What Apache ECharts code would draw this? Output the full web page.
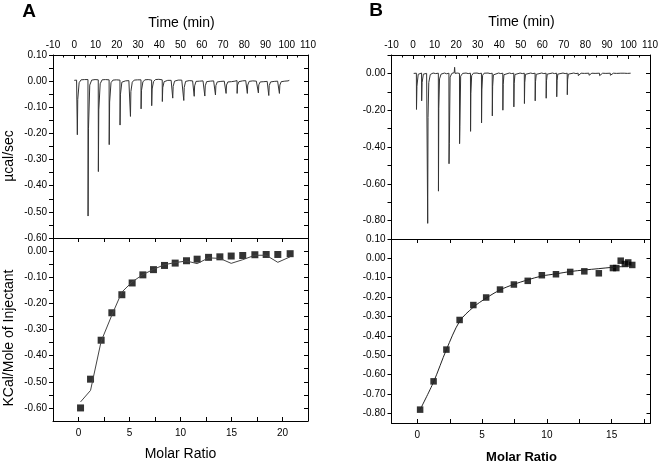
<!DOCTYPE html>
<html>
<head>
<meta charset="utf-8">
<script src="https://cdn.jsdelivr.net/npm/echarts@6/dist/echarts.min.js"></script>
<style>
html,body{margin:0;padding:0;background:#fff;}
#chart{width:661px;height:464px;}
</style>
</head>
<body>
<div id="chart"></div>
<script>
// ---------- DATA ----------
// Panel A, raw thermogram: [time (min), µcal/sec]
const thermoA = [
[0.0,0.003],[0.6,-0.002],[1.1,0.004],[1.4,0.000],
[1.45,-0.205],[1.65,-0.07],[2.3,-0.006],[3.2,0.005],[4.0,-0.001],[4.8,0.006],[5.6,0.002],[6.45,0.006],
[6.5,-0.516],[6.7,-0.18],[7.3,-0.015],[8.2,0.004],[9.0,0.000],[9.8,0.006],[10.6,0.002],[11.3,0.005],
[11.35,-0.346],[11.55,-0.11],[12.2,-0.010],[13.1,0.005],[13.9,0.001],[14.7,0.006],[15.5,0.003],[16.4,0.005],
[16.45,-0.243],[16.65,-0.08],[17.3,-0.006],[18.2,0.004],[19.0,0.002],[19.8,0.005],[20.6,0.000],[21.5,0.004],
[21.55,-0.168],[21.75,-0.05],[22.4,-0.004],[23.3,0.003],[24.1,0.001],[24.9,0.005],[25.7,0.002],[26.4,0.004],
[26.45,-0.135],[26.65,-0.04],[27.3,-0.004],[28.2,0.004],[29.0,-0.001],[29.8,0.005],[30.6,0.001],[31.4,0.005],
[31.45,-0.106],[31.65,-0.035],[32.3,-0.003],[33.2,0.005],[34.0,0.000],[34.8,0.006],[35.6,0.002],[36.4,0.004],
[36.45,-0.094],[36.65,-0.03],[37.3,-0.002],[38.2,0.006],[39.0,0.001],[39.8,0.007],[40.6,0.002],[41.4,0.005],
[41.45,-0.078],[41.65,-0.025],[42.3,-0.002],[43.2,0.005],[44.0,0.003],[44.8,0.008],[45.6,0.003],[46.3,0.006],
[46.35,-0.065],[46.55,-0.02],[47.2,0.000],[48.1,0.007],[48.9,0.004],[49.7,0.009],[50.6,0.004],[51.5,0.006],
[51.55,-0.074],[51.75,-0.024],[52.4,-0.001],[53.3,0.005],[54.1,0.002],[54.9,0.006],[55.7,0.001],[56.4,0.004],
[56.45,-0.058],[56.65,-0.018],[57.3,-0.001],[58.2,0.004],[59.0,0.000],[59.8,0.005],[60.6,0.001],[61.4,0.004],
[61.45,-0.057],[61.65,-0.018],[62.3,-0.002],[63.2,0.004],[64.0,0.000],[64.8,0.005],[65.6,0.001],[66.4,0.003],
[66.45,-0.053],[66.65,-0.017],[67.3,-0.003],[68.2,0.003],[69.0,-0.001],[69.8,0.004],[70.6,0.000],[71.4,0.003],
[71.45,-0.047],[71.65,-0.015],[72.3,-0.003],[73.2,0.002],[74.0,-0.002],[74.8,0.003],[75.6,0.000],[76.6,0.002],
[76.65,-0.047],[76.85,-0.015],[77.5,-0.002],[78.4,0.004],[79.2,0.001],[80.0,0.006],[80.7,0.002],[81.4,0.004],
[81.45,-0.047],[81.65,-0.015],[82.3,-0.001],[83.2,0.005],[84.0,0.001],[84.8,0.004],[85.7,0.000],[86.6,0.003],
[86.65,-0.045],[86.85,-0.014],[87.5,-0.003],[88.4,0.002],[89.2,-0.002],[90.0,0.003],[90.8,-0.001],[91.5,0.002],
[91.55,-0.055],[91.75,-0.017],[92.4,-0.003],[93.3,0.002],[94.1,-0.001],[94.9,0.003],[95.7,0.000],[96.5,0.002],
[96.55,-0.047],[96.75,-0.015],[97.4,-0.002],[98.3,0.003],[99.1,0.000],[99.9,0.004],[100.6,0.001],[101.2,0.003]
];

// Panel B, raw thermogram: [time (min), µcal/sec]
const thermoB = [
[0.3,0.000],[0.9,0.003],[1.55,0.001],
[1.6,-0.196],[1.8,-0.07],[2.4,-0.005],[3.2,0.004],[3.95,0.002],
[4.0,-0.149],[4.2,-0.05],[4.8,-0.004],[5.6,0.003],[6.3,0.000],[6.75,0.002],
[6.8,-0.815],[6.95,-0.24],[7.3,-0.05],[8.0,-0.006],[9.3,0.002],[10.5,-0.001],[11.75,0.001],
[11.8,-0.640],[11.95,-0.19],[12.3,-0.03],[13.0,-0.004],[14.6,0.002],[15.6,-0.002],[16.65,0.001],
[16.7,-0.491],[16.85,-0.38],[17.2,-0.02],[18.0,0.000],[19.1,0.004],[19.3,0.033],[19.5,0.000],[20.5,0.002],[21.55,0.000],
[21.6,-0.382],[21.75,-0.29],[22.1,-0.015],[23.0,0.000],[24.6,0.002],[25.6,-0.001],[26.65,0.001],
[26.7,-0.315],[26.85,-0.11],[27.2,-0.012],[28.0,0.001],[29.7,0.002],[30.7,-0.001],[31.75,0.001],
[31.8,-0.269],[31.95,-0.09],[32.3,-0.01],[33.0,0.001],[34.8,0.002],[35.8,-0.001],[36.75,0.001],
[36.8,-0.231],[36.95,-0.07],[37.3,-0.008],[38.0,0.001],[39.7,0.002],[40.7,-0.001],[41.65,0.001],
[41.7,-0.200],[41.85,-0.06],[42.2,-0.007],[43.0,0.001],[44.7,0.002],[45.8,-0.001],[46.75,0.001],
[46.8,-0.182],[46.95,-0.055],[47.3,-0.006],[48.0,0.001],[49.7,0.002],[50.7,-0.001],[51.65,0.001],
[51.7,-0.164],[51.85,-0.05],[52.2,-0.005],[53.0,0.001],[54.6,0.002],[55.6,-0.001],[56.65,0.001],
[56.7,-0.149],[56.85,-0.045],[57.2,-0.005],[58.0,0.001],[59.7,0.002],[60.7,-0.001],[61.75,0.001],
[61.8,-0.135],[61.95,-0.04],[62.3,-0.004],[63.0,0.001],[64.7,0.002],[65.7,-0.001],[66.65,0.001],
[66.7,-0.127],[66.85,-0.04],[67.2,-0.004],[68.0,0.001],[69.6,0.002],[70.6,-0.001],[71.55,0.001],
[71.6,-0.116],[71.75,-0.035],[72.1,-0.004],[73.0,0.001],[74.6,0.002],[75.6,-0.001],[76.65,0.001],
[76.7,-0.012],[76.9,-0.003],[78.0,0.001],[79.5,0.000],[81.65,0.001],
[81.7,-0.010],[81.9,-0.002],[83.0,0.001],[84.5,0.000],[86.55,0.001],
[86.6,-0.012],[86.8,-0.003],[88.0,0.001],[89.5,0.000],[91.55,0.001],
[91.6,-0.010],[91.8,-0.002],[93.0,0.001],[94.5,0.000],[96.45,0.001],
[96.5,-0.008],[96.7,-0.002],[98.0,0.001],[99.5,0.000],[101.0,0.001]
];

// Panel A, integrated heats
const molarA = [0.2,1.18,2.22,3.27,4.25,5.26,6.31,7.35,8.43,9.48,10.59,11.63,12.75,13.86,14.97,16.1,17.29,18.4,19.54,20.75];
const heatA  = [-0.600,-0.490,-0.341,-0.236,-0.167,-0.122,-0.091,-0.071,-0.055,-0.046,-0.037,-0.031,-0.024,-0.022,-0.019,-0.017,-0.014,-0.013,-0.013,-0.010];
const fitA   = [-0.577,-0.533,-0.345,-0.245,-0.157,-0.118,-0.090,-0.070,-0.052,-0.044,-0.038,-0.048,-0.026,-0.028,-0.047,-0.033,-0.016,-0.016,-0.043,-0.022];

// Panel B, integrated heats
const molarB = [0.21,1.25,2.24,3.26,4.32,5.31,6.38,7.45,8.52,9.61,10.70,11.80,12.89,14.01,15.10,15.36,15.70,16.02,16.28,16.59];
const heatB  = [-0.781,-0.635,-0.471,-0.318,-0.241,-0.202,-0.161,-0.135,-0.116,-0.087,-0.082,-0.070,-0.067,-0.077,-0.050,-0.050,-0.012,-0.029,-0.021,-0.034];
const fitMolarB = [0.21,1.25,2.24,3.26,4.32,5.31,6.38,7.45,8.52,9.61,10.70,11.80,12.89,14.01,15.10,16.59];
const fitB   = [-0.781,-0.638,-0.471,-0.325,-0.252,-0.205,-0.163,-0.134,-0.111,-0.091,-0.080,-0.068,-0.060,-0.053,-0.046,-0.039];

// Tick labels
const timeTicks = [-10,0,10,20,30,40,50,60,70,80,90,100,110];
const timeMinorTicks = [-5,5,15,25,35,45,55,65,75,85,95,105];
const molarLabelsA = [0,5,10,15,20];
const molarTicksA = [0,2.5,5,7.5,10,12.5,15,17.5,20];
const molarLabelsB = [0,5,10,15];
const molarTicksB = [0,2.5,5,7.5,10,12.5,15,17.5];
const yLabelsATop = [0.1,0,-0.1,-0.2,-0.3,-0.4,-0.5,-0.6];
const yTicksATop = [0.1,0.05,0,-0.05,-0.1,-0.15,-0.2,-0.25,-0.3,-0.35,-0.4,-0.45,-0.5,-0.55,-0.6];
const yLabelsABot = [0,-0.1,-0.2,-0.3,-0.4,-0.5,-0.6];
const yTicksABot = [0,-0.05,-0.1,-0.15,-0.2,-0.25,-0.3,-0.35,-0.4,-0.45,-0.5,-0.55,-0.6];
const yLabelsBTop = [0,-0.2,-0.4,-0.6,-0.8];
const yTicksBTop = [0.1,0,-0.1,-0.2,-0.3,-0.4,-0.5,-0.6,-0.7,-0.8];
const yLabelsBBot = [0.1,0,-0.1,-0.2,-0.3,-0.4,-0.5,-0.6,-0.7,-0.8];

// ---------- CHART ----------
const FONT = 'Liberation Sans, Arial, sans-serif';
const chart = echarts.init(document.getElementById('chart'), null, {renderer:'canvas'});
const fmt2 = v => (Math.abs(v) < 1e-9 ? 0 : v).toFixed(2);
const lblStyle = {color:'#000', fontFamily:FONT, fontSize:10};
const axLine = {show:true, onZero:false, lineStyle:{color:'#000', width:1}};

function xAxisDef(gridIndex, pos, min, max, labels, ticks, showLabels, tickLen, margin){
  return {type:'value', gridIndex, position:pos, min, max,
    axisLine:axLine, splitLine:{show:false},
    axisTick:{show:true, inside:true, length:tickLen, customValues:ticks, lineStyle:{color:'#000', width:1}},
    axisLabel:Object.assign({show:showLabels, margin, customValues:labels, formatter:v=>String(v)}, lblStyle)};
}
function yAx(gridIndex, pos, min, max, labels, ticks, showLabels){
  return {type:'value', gridIndex, position:pos, min, max,
    axisLine:axLine, splitLine:{show:false},
    axisTick:{show:true, inside:pos==='right', length:4, customValues:ticks, lineStyle:{color:'#000', width:1}},
    axisLabel:Object.assign({show:showLabels, margin:6, customValues:labels, formatter:fmt2}, lblStyle)};
}

const option = {
  animation:false,
  backgroundColor:'#fff',
  grid:[
    {left:53, top:55, width:255, height:183},
    {left:53, top:238, width:255, height:183},
    {left:391.5, top:55, width:259, height:184},
    {left:391.5, top:239, width:259, height:184}
  ],
  xAxis:[
    xAxisDef(0,'top',-10,110,timeTicks,timeTicks,true,4,5),
    xAxisDef(0,'top',-10,110,[],timeMinorTicks,false,2.5,5),
    xAxisDef(0,'bottom',-10,110,[],[],false,3,5),
    xAxisDef(1,'bottom',-2.5,22.5,molarLabelsA,molarTicksA,true,4,7),
    xAxisDef(1,'top',-2.5,22.5,[],molarTicksA,false,4,7),
    xAxisDef(2,'top',-10,110,timeTicks,timeTicks,true,4,5),
    xAxisDef(2,'top',-10,110,[],timeMinorTicks,false,2.5,5),
    xAxisDef(2,'bottom',-10,110,[],[],false,3,5),
    xAxisDef(3,'bottom',-2,18,molarLabelsB,molarTicksB,true,4,7),
    xAxisDef(3,'top',-2,18,[],molarTicksB,false,4,7)
  ],
  yAxis:[
    yAx(0,'left',-0.6,0.1,yLabelsATop,yTicksATop,true),
    yAx(0,'right',-0.6,0.1,[],yTicksATop,false),
    yAx(1,'left',-0.65,0.05,yLabelsABot,yTicksABot,true),
    yAx(1,'right',-0.65,0.05,[],yTicksABot,false),
    yAx(2,'left',-0.9,0.1,yLabelsBTop,yTicksBTop,true),
    yAx(2,'right',-0.9,0.1,[],yTicksBTop,false),
    yAx(3,'left',-0.85,0.1,yLabelsBBot,yLabelsBBot,true),
    yAx(3,'right',-0.85,0.1,[],yLabelsBBot,false)
  ],
  series:[
    {type:'line', xAxisIndex:0, yAxisIndex:0, data:thermoA, showSymbol:false, symbol:'none',
      lineStyle:{color:'#333', width:1}},
    {type:'line', xAxisIndex:3, yAxisIndex:2, data:molarA.map((m,i)=>[m,fitA[i]]), showSymbol:false, symbol:'none',
      lineStyle:{color:'#444', width:1}},
    {type:'scatter', xAxisIndex:3, yAxisIndex:2, data:molarA.map((m,i)=>[m,heatA[i]]), symbol:'rect', symbolSize:7,
      itemStyle:{color:'#000'}},
    {type:'line', xAxisIndex:5, yAxisIndex:4, data:thermoB, showSymbol:false, symbol:'none',
      lineStyle:{color:'#333', width:1}},
    {type:'line', xAxisIndex:8, yAxisIndex:6, data:fitMolarB.map((m,i)=>[m,fitB[i]]), showSymbol:false, symbol:'none', smooth:0.3,
      lineStyle:{color:'#222', width:1}},
    {type:'scatter', xAxisIndex:8, yAxisIndex:6, data:molarB.map((m,i)=>[m,heatB[i]]), symbol:'rect', symbolSize:6.5,
      itemStyle:{color:'#000'}}
  ],
  graphic:[
    {type:'text', x:29, y:12, style:{text:'A', font:'bold 19px '+FONT, fill:'#000', align:'center', verticalAlign:'middle'}},
    {type:'text', x:376, y:11, style:{text:'B', font:'bold 19px '+FONT, fill:'#000', align:'center', verticalAlign:'middle'}},
    {type:'text', x:181.5, y:23, style:{text:'Time (min)', font:'14px '+FONT, fill:'#000', align:'center', verticalAlign:'middle'}},
    {type:'text', x:521.5, y:22, style:{text:'Time (min)', font:'14px '+FONT, fill:'#000', align:'center', verticalAlign:'middle'}},
    {type:'text', x:9.5, y:156, rotation:Math.PI/2, style:{text:'µcal/sec', font:'14px '+FONT, fill:'#000', align:'center', verticalAlign:'middle'}},
    {type:'text', x:9.5, y:338, rotation:Math.PI/2, style:{text:'KCal/Mole of Injectant', font:'14px '+FONT, fill:'#000', align:'center', verticalAlign:'middle'}},
    {type:'text', x:180.5, y:454.5, style:{text:'Molar Ratio', font:'14px '+FONT, fill:'#000', align:'center', verticalAlign:'middle'}},
    {type:'text', x:521.5, y:457, style:{text:'Molar Ratio', font:'bold 13px '+FONT, fill:'#000', align:'center', verticalAlign:'middle'}}
  ]
};
chart.setOption(option);
</script>
</body>
</html>
